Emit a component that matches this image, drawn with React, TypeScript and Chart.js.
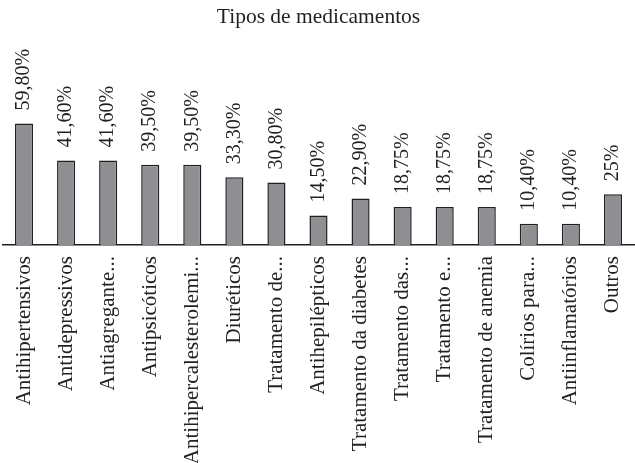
import React, { useEffect, useRef } from "react";
import { Chart, registerables } from "chart.js";

Chart.register(...registerables);

const categories: string[] = [
  "Antihipertensivos",
  "Antidepressivos",
  "Antiagregante...",
  "Antipsicóticos",
  "Antihipercalesterolemi...",
  "Diuréticos",
  "Tratamento de...",
  "Antihepilépticos",
  "Tratamento da diabetes",
  "Tratamento das...",
  "Tratamento e...",
  "Tratamento de anemia",
  "Colírios para...",
  "Antiinflamatórios",
  "Outros",
];

const values: number[] = [59.8, 41.6, 41.6, 39.5, 39.5, 33.3, 30.8, 14.5, 22.9, 18.75, 18.75, 18.75, 10.4, 10.4, 25];

const valueLabels: string[] = [
  "59,80%", "41,60%", "41,60%", "39,50%", "39,50%", "33,30%", "30,80%", "14,50%",
  "22,90%", "18,75%", "18,75%", "18,75%", "10,40%", "10,40%", "25%",
];

const titleText = "Tipos de medicamentos";

const FONT = "'Liberation Serif', 'Times New Roman', serif";
const INK = "#231f20";

const valueLabelPlugin = {
  id: "valueLabels",
  afterDatasetsDraw(chart: any) {
    const ctx = chart.ctx;
    const meta = chart.getDatasetMeta(0);
    ctx.save();
    ctx.fillStyle = INK;
    ctx.font = `20px ${FONT}`;
    ctx.textAlign = "left";
    ctx.textBaseline = "middle";
    meta.data.forEach((bar: any, i: number) => {
      ctx.save();
      ctx.translate(bar.x, bar.y - 13);
      ctx.rotate(-Math.PI / 2);
      ctx.fillText(valueLabels[i], 0, 0);
      ctx.restore();
    });
    ctx.restore();
  },
};

export default function App() {
  const ref = useRef<HTMLCanvasElement>(null);

  useEffect(() => {
    if (!ref.current) return;
    const chart = new Chart(ref.current, {
      type: "bar",
      data: {
        labels: categories,
        datasets: [
          {
            data: values,
            backgroundColor: "#8e8f92",
            borderColor: INK,
            borderWidth: 1.5,
            barPercentage: 0.43,
            categoryPercentage: 1,
          },
        ],
      },
      options: {
        responsive: false,
        animation: false,
        layout: { padding: { left: 3, right: 1, top: 0, bottom: 0 } },
        plugins: {
          legend: { display: false },
          tooltip: { enabled: false },
          title: {
            display: true,
            text: titleText,
            color: INK,
            font: { family: FONT, size: 21.5, weight: "normal" as any, lineHeight: 1.15 },
            padding: { top: 5, bottom: 12 },
          },
        },
        scales: {
          x: {
            grid: { display: false, drawTicks: false },
            border: { display: true, color: INK, width: 1.5 },
            ticks: {
              color: INK,
              font: { family: FONT, size: 21 },
              minRotation: 90,
              maxRotation: 90,
              autoSkip: false,
              padding: 11,
            },
            afterFit: (scale: any) => {
              scale.height = 218;
              scale.paddingLeft = 0;
              scale.paddingRight = 0;
            },
          },
          y: {
            display: false,
            min: 0,
            max: 100,
          },
        },
      },
      plugins: [valueLabelPlugin],
    });
    return () => chart.destroy();
  }, []);

  return (
    <div style={{ position: "absolute", left: 0, top: 0, width: 635, height: 463 }}>
      <canvas ref={ref} width={635} height={463} />
    </div>
  );
}
